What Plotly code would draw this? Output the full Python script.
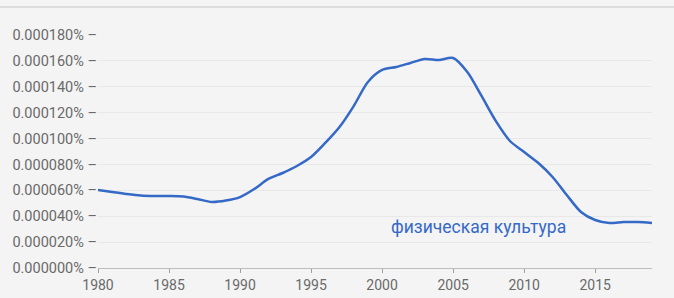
import plotly.graph_objects as go

years = list(range(1980, 2020))
values = [0.0000603, 0.0000587, 0.0000572, 0.0000560, 0.0000556, 0.0000556, 0.0000552, 0.0000533,
          0.0000510, 0.0000521, 0.0000548, 0.0000610, 0.0000688, 0.0000734, 0.0000788, 0.0000857,
          0.0000966, 0.0001089, 0.0001251, 0.0001437, 0.0001530, 0.0001553, 0.0001584, 0.0001615,
          0.0001607, 0.0001622, 0.0001514, 0.0001329, 0.0001136, 0.0000981, 0.0000896, 0.0000811,
          0.0000703, 0.0000564, 0.0000433, 0.0000371, 0.0000348, 0.0000355, 0.0000355, 0.0000348]
series_name = "физическая культура"
y_ticks = [0.00000, 0.00002, 0.00004, 0.00006, 0.00008, 0.00010, 0.00012, 0.00014, 0.00016, 0.00018]
x_ticks = [1980, 1985, 1990, 1995, 2000, 2005, 2010, 2015]

blue = "#3569c8"
grey = "#6a6a6a"
bg = "#f4f4f4"

fig = go.Figure()
fig.add_trace(go.Scatter(x=years, y=values, mode="lines", name=series_name,
                         line=dict(color=blue, width=2.5, shape="spline", smoothing=0.8),
                         showlegend=False))

fig.add_annotation(x=2000.5, y=0.0000317, text=series_name, showarrow=False,
                   xanchor="left", yanchor="middle",
                   font=dict(family="Roboto", size=17.5, color=blue))

fig.add_shape(type="line", xref="paper", yref="paper", x0=-0.2, x1=1.1, y0=1.12, y1=1.12,
              line=dict(color="#dcdcdc", width=2))

fig.update_layout(
    width=674, height=298,
    margin=dict(l=98, r=22, t=35, b=30, autoexpand=False),
    paper_bgcolor=bg, plot_bgcolor=bg,
    font=dict(family="Roboto", size=14, color=grey),
    xaxis=dict(range=[1980, 2019], tickvals=x_ticks, ticks="outside", ticklen=4,
               tickcolor="#9e9e9e", showgrid=False, showline=True, linecolor="#bdbdbd",
               linewidth=1, zeroline=False, automargin=False,
               tickfont=dict(size=14, color=grey)),
    yaxis=dict(range=[0, 0.00018], tickvals=y_ticks,
               ticktext=[f"{v:.6f}% –" for v in y_ticks],
               ticks="", showgrid=True, gridcolor="#e8e8e8", gridwidth=1,
               zeroline=False, automargin=False,
               tickfont=dict(size=14.5, color=grey)),
)

fig.write_html("out.html", config={"displayModeBar": False},
               post_script="document.body.style.margin='0';document.body.style.padding='0';"
                           "document.body.style.background='#f4f4f4';")
